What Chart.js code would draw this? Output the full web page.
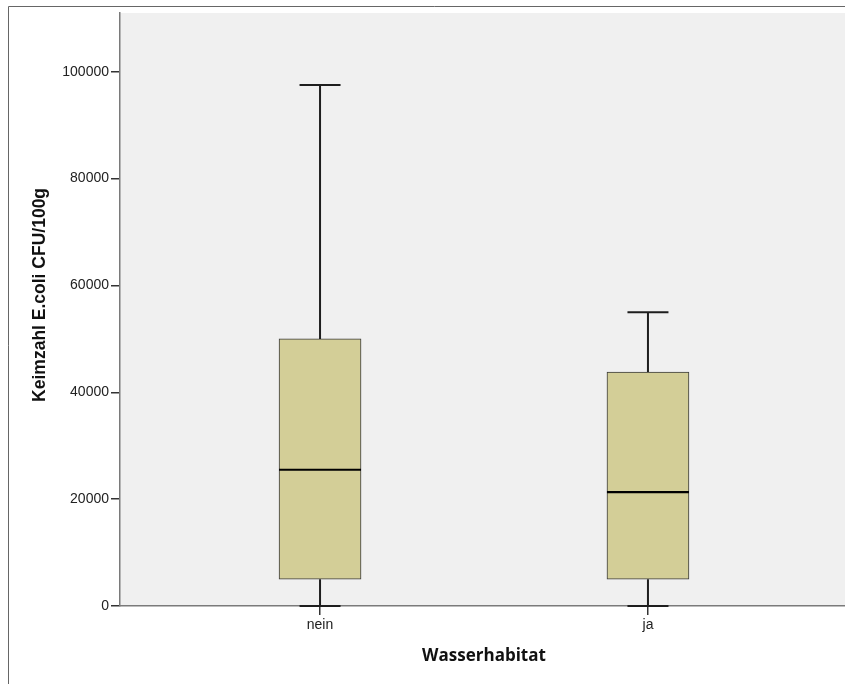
<!DOCTYPE html>
<html lang="de">
<head>
<meta charset="utf-8">
<title>Keimzahl E.coli nach Wasserhabitat</title>
<script src="https://cdn.jsdelivr.net/npm/chart.js@4.4.1/dist/chart.umd.min.js"></script>
<style>
  html, body { margin: 0; padding: 0; background: #fff; overflow: hidden; }
  #chartBox { position: relative; width: 860px; height: 684px; }
</style>
</head>
<body>
<div id="chartBox"><canvas id="boxChart" width="860" height="684"></canvas></div>
<script>
// Daten
const categories = ['nein', 'ja'];
const whiskerLow = [0, 0];
const quartile1 = [5000, 5000];
const medians = [25500, 21300];
const quartile3 = [50000, 43800];
const whiskerHigh = [97500, 55000];
const yTicks = [0, 20000, 40000, 60000, 80000, 100000];

const BOX_FILL = '#d3ce97';
const BOX_LINE = '#3a3a3a';
const PLOT_BG = '#f0f0f0';
// Abstand der Kategorien zum Rand (in Kategorie-Einheiten), wie bei SPSS
const X_PAD = 0.61;

// Hintergrund der Plotfläche und äußerer Rahmen
const backgroundPlugin = {
  id: 'plotBackground',
  beforeDraw(chart) {
    const { ctx, chartArea } = chart;
    ctx.save();
    ctx.fillStyle = PLOT_BG;
    ctx.fillRect(chartArea.left, chartArea.top, chartArea.right - chartArea.left, chartArea.bottom - chartArea.top);
    ctx.strokeStyle = '#666';
    ctx.lineWidth = 1;
    ctx.beginPath();
    ctx.moveTo(8.5, chart.height);
    ctx.lineTo(8.5, 6.5);
    ctx.lineTo(chart.width, 6.5);
    ctx.stroke();
    ctx.restore();
  }
};

// Whisker, Endstriche und Median über die Skalen zeichnen
const boxplotPlugin = {
  id: 'boxplotParts',
  afterDatasetsDraw(chart) {
    const { ctx } = chart;
    const x = chart.scales.x;
    const y = chart.scales.y;
    const meta = chart.getDatasetMeta(0);

    ctx.save();
    categories.forEach((cat, i) => {
      const bar = meta.data[i];
      const cx = x.getPixelForValue(i);
      const half = bar.width / 2;
      const capHalf = bar.width / 4;

      ctx.strokeStyle = '#1e1e1e';
      ctx.lineWidth = 2;
      ctx.beginPath();
      // oberer Whisker
      ctx.moveTo(cx, y.getPixelForValue(quartile3[i]));
      ctx.lineTo(cx, y.getPixelForValue(whiskerHigh[i]));
      // unterer Whisker
      ctx.moveTo(cx, y.getPixelForValue(quartile1[i]));
      ctx.lineTo(cx, y.getPixelForValue(whiskerLow[i]));
      ctx.stroke();

      ctx.beginPath();
      ctx.moveTo(cx - capHalf, y.getPixelForValue(whiskerHigh[i]));
      ctx.lineTo(cx + capHalf, y.getPixelForValue(whiskerHigh[i]));
      ctx.moveTo(cx - capHalf, y.getPixelForValue(whiskerLow[i]));
      ctx.lineTo(cx + capHalf, y.getPixelForValue(whiskerLow[i]));
      ctx.stroke();

      // Median
      ctx.strokeStyle = '#000';
      ctx.lineWidth = 2.2;
      ctx.beginPath();
      ctx.moveTo(cx - half, y.getPixelForValue(medians[i]));
      ctx.lineTo(cx + half, y.getPixelForValue(medians[i]));
      ctx.stroke();
    });
    ctx.restore();
  }
};

const ctx = document.getElementById('boxChart');
new Chart(ctx, {
  type: 'bar',
  data: {
    datasets: [
      {
        label: 'Keimzahl',
        data: categories.map((c, i) => ({ x: i, y: [quartile1[i], quartile3[i]] })),
        backgroundColor: BOX_FILL,
        borderColor: BOX_LINE,
        borderWidth: 1,
        borderSkipped: false,
        barThickness: 82
      }
    ]
  },
  options: {
    responsive: false,
    animation: false,
    layout: { padding: { top: 13, right: 12, left: 0, bottom: 0 } },
    plugins: {
      legend: { display: false },
      tooltip: { enabled: false }
    },
    scales: {
      x: {
        type: 'linear',
        min: -X_PAD,
        max: categories.length - 1 + X_PAD,
        offset: false,
        afterBuildTicks(scale) {
          scale.ticks = categories.map((c, i) => ({ value: i }));
        },
        grid: {
          offset: false,
          drawOnChartArea: false,
          drawTicks: true,
          tickLength: 9,
          color: '#333',
          lineWidth: 1.5
        },
        border: { display: true, color: '#7a7a7a', width: 1.5 },
        ticks: {
          color: '#222',
          padding: 2,
          font: { family: 'Liberation Sans, Arial, sans-serif', size: 14 },
          callback: (value) => categories[value] || ''
        },
        title: {
          display: true,
          text: 'Wasserhabitat',
          color: '#111',
          padding: { top: 0, bottom: 18 },
          font: { family: 'Open Sans, sans-serif', size: 17, weight: 'bold' }
        },
        afterFit(scale) {
          scale.height = 78;
        }
      },
      y: {
        min: 0,
        max: 111000,
        afterBuildTicks(scale) {
          scale.ticks = yTicks.map((v) => ({ value: v }));
        },
        grid: {
          drawOnChartArea: false,
          drawTicks: true,
          tickLength: 9,
          color: '#333',
          lineWidth: 1.5
        },
        border: { display: true, color: '#7a7a7a', width: 1.5 },
        ticks: {
          color: '#222',
          padding: 2,
          font: { family: 'Liberation Sans, Arial, sans-serif', size: 14 },
          callback: (value) => String(value)
        },
        title: {
          display: true,
          // führende Leerzeichen schieben den Titel etwas nach oben, wie im Original
          text: '      Keimzahl E.coli CFU/100g',
          color: '#111',
          padding: { top: 30, bottom: 0 },
          font: { family: 'Liberation Sans, Arial, sans-serif', size: 17.5, weight: 'bold' }
        },
        afterFit(scale) {
          scale.width = 120;
        }
      }
    }
  },
  plugins: [backgroundPlugin, boxplotPlugin]
});
</script>
</body>
</html>
